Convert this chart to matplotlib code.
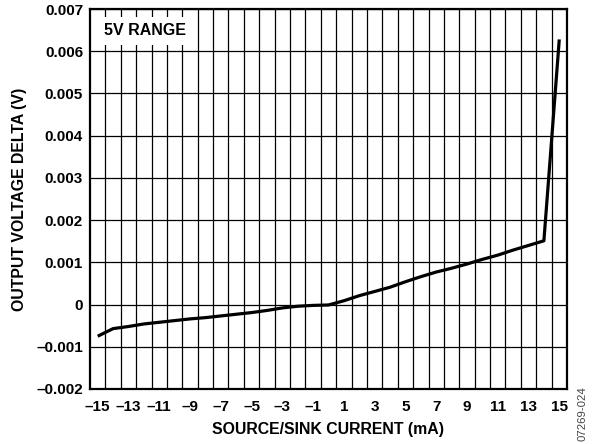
import numpy as np
import matplotlib
matplotlib.use("Agg")
import matplotlib.pyplot as plt

plt.rcParams["font.family"] = ["Liberation Sans", "DejaVu Sans"]

# source/sink current (mA) and output voltage delta (V)
current = list(range(-15, 16))
delta_v = [-0.00075, -0.00057, -0.00052, -0.00046, -0.00042, -0.00038,
           -0.00034, -0.00031, -0.00027, -0.00023, -0.00019, -0.00014,
           -0.00008, -0.00004, -0.00002, -0.00001, 0.00009, 0.00021,
           0.00031, 0.00041, 0.00054, 0.00066, 0.00077, 0.00086,
           0.00096, 0.00107, 0.00117, 0.00129, 0.00140, 0.00151, 0.00628]

x_ticks = list(range(-15, 16, 2))
y_ticks = [-0.002, -0.001, 0, 0.001, 0.002, 0.003, 0.004, 0.005, 0.006, 0.007]


def fmt_y(v):
    if v == 0:
        return "0"
    s = "%.3f" % abs(v)
    return ("\u2013" + s) if v < 0 else s


def fmt_x(v):
    return ("\u2013%d" % abs(v)) if v < 0 else "%d" % v


fig = plt.figure(figsize=(5.97, 4.44), dpi=100)
ax = fig.add_axes([0.1508, 0.1239, 0.7989, 0.8558])

ax.plot(current, delta_v, color="black", linewidth=2.3, solid_capstyle="butt",
        zorder=3)

ax.set_xlim(-15.5, 15.5)
ax.set_ylim(-0.002, 0.007)

ax.set_xticks(x_ticks)
ax.set_xticklabels([fmt_x(v) for v in x_ticks])
ax.set_xticks(np.arange(-14.5, 15.0, 1.0), minor=True)
ax.set_yticks(y_ticks)
ax.set_yticklabels([fmt_y(v) for v in y_ticks])

ax.grid(False)
ax.grid(which="minor", axis="x", color="black", linewidth=0.9)
ax.grid(which="major", axis="y", color="black", linewidth=0.9)
ax.tick_params(which="both", length=0, labelsize=11)
ax.tick_params(axis="x", pad=8)
ax.tick_params(axis="y", pad=5)
for lab in ax.get_xticklabels() + ax.get_yticklabels():
    lab.set_fontweight("bold")

for sp in ax.spines.values():
    sp.set_linewidth(1.6)

ax.set_xlabel("SOURCE/SINK CURRENT (mA)", fontsize=11.4, fontweight="bold",
              labelpad=6)
ax.set_ylabel("OUTPUT VOLTAGE DELTA (V)", fontsize=11.4, fontweight="bold",
              labelpad=7)

ax.text(-14.56, 0.00648, "5V RANGE", fontsize=11.5, fontweight="bold",
        ha="left", va="center", zorder=4,
        bbox=dict(facecolor="white", edgecolor="none", pad=5))

fig.text(0.975, 0.068, "07269-024", rotation=90, fontsize=8.2,
         color="#444444", ha="center", va="center")

fig.savefig("out.png", dpi=100)
